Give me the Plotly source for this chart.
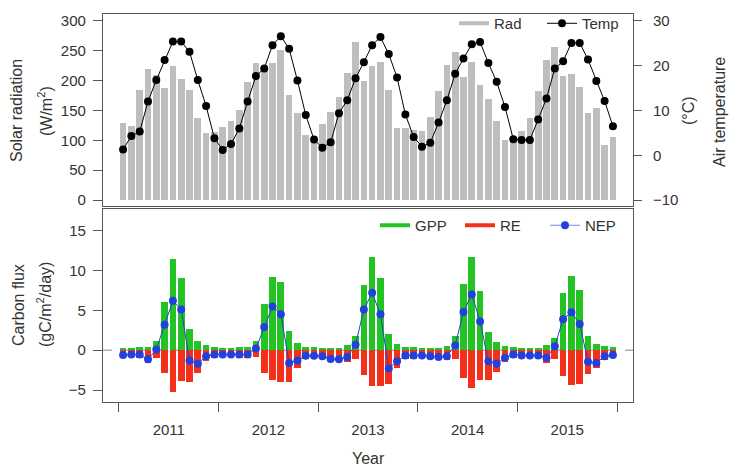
import plotly.graph_objects as go

# ---------------- data ----------------
years = ["2011", "2012", "2013", "2014", "2015"]
first_year = 2011

rad = [129, 124, 185, 219, 210, 188, 225, 202, 185, 138, 112, 114,
       123, 133, 151, 198, 229, 221, 229, 251, 176, 146, 109, 106,
       128, 148, 173, 213, 265, 200, 225, 232, 185, 120, 120, 117,
       115, 139, 182, 226, 248, 206, 232, 193, 170, 132, 101, 104,
       115, 137, 183, 235, 257, 208, 212, 189, 145, 155, 92, 105]

temp = [1.3, 4.3, 5.3, 12.0, 16.8, 21.3, 25.4, 25.4, 23.1, 16.8, 11.0, 3.8,
        1.2, 2.5, 6.0, 12.0, 17.7, 19.4, 24.6, 26.6, 23.8, 16.7, 9.0, 3.5,
        1.7, 2.9, 9.4, 12.3, 17.2, 20.8, 24.6, 26.4, 22.6, 17.4, 9.1, 4.1,
        1.9, 2.8, 7.3, 12.3, 18.2, 21.6, 24.8, 25.3, 20.6, 16.4, 10.8, 3.6,
        3.4, 3.4, 8.0, 12.7, 19.4, 21.0, 25.1, 25.1, 21.4, 16.6, 12.1, 6.5]

gpp = [0.3, 0.3, 0.4, 0.4, 1.1, 6.0, 11.5, 9.0, 2.7, 1.1, 0.6, 0.4,
       0.3, 0.3, 0.4, 0.4, 1.1, 5.8, 9.2, 8.5, 2.4, 0.9, 0.4, 0.4,
       0.3, 0.3, 0.3, 0.6, 1.75, 8.2, 11.7, 9.0, 2.0, 0.8, 0.4, 0.4,
       0.3, 0.3, 0.3, 0.5, 1.75, 8.3, 11.75, 7.4, 2.3, 1.0, 0.5, 0.4,
       0.3, 0.3, 0.3, 0.6, 1.55, 7.2, 9.25, 7.6, 1.75, 0.8, 0.5, 0.4]

re = [-0.9, -0.85, -0.95, -1.55, -1.0, -2.8, -5.3, -3.9, -4.0, -2.8, -1.35, -0.95,
      -0.85, -0.85, -0.95, -0.95, -0.9, -2.9, -3.7, -4.0, -4.0, -2.2, -1.1, -1.1,
      -1.05, -1.4, -1.45, -1.45, -1.05, -3.1, -4.5, -4.5, -4.3, -2.2, -1.05, -1.05,
      -0.95, -1.05, -1.15, -1.25, -1.15, -3.5, -4.75, -3.8, -3.7, -2.7, -1.45, -0.95,
      -0.95, -0.95, -0.95, -1.55, -1.1, -3.25, -4.4, -4.3, -3.0, -2.2, -1.25, -1.0]

nep = [-0.6, -0.55, -0.55, -1.15, 0.1, 3.2, 6.2, 5.1, -1.3, -1.7, -0.75, -0.55,
       -0.55, -0.55, -0.55, -0.55, 0.2, 2.9, 5.5, 4.5, -1.6, -1.3, -0.7, -0.7,
       -0.75, -1.1, -1.15, -0.85, 0.7, 5.1, 7.2, 4.5, -2.3, -1.4, -0.65, -0.65,
       -0.65, -0.75, -0.85, -0.75, 0.6, 4.8, 7.0, 3.6, -1.4, -1.7, -0.95, -0.55,
       -0.65, -0.65, -0.65, -0.95, 0.5, 3.9, 4.75, 3.3, -1.45, -1.6, -0.75, -0.6]

rad_ticks = [0, 50, 100, 150, 200, 250, 300]
temp_ticks = [-10, 0, 10, 20, 30]
flux_ticks = [-5, 0, 5, 10, 15]

# month centres on a decimal-year axis
x = [first_year + (i + 0.5) / 12 for i in range(len(rad))]
year_mid = [first_year + k + 0.5 for k in range(len(years))]
year_edges = [first_year + k for k in range(len(years) + 1)]

# ---------------- style ----------------
FONT = "Liberation Sans, Arial, sans-serif"
TXT = "#333333"
LINE = "#555555"
GRAY = "#BEBEBE"
GREEN = "#22C322"
RED = "#F5301A"
BLUE = "#2340DD"
BW = 0.067

fig = go.Figure()

# top panel
fig.add_trace(go.Bar(x=x, y=rad, width=BW, marker=dict(color=GRAY, line=dict(width=0)),
                     xaxis="x", yaxis="y", showlegend=False))
fig.add_trace(go.Scatter(x=x, y=temp, mode="lines+markers", xaxis="x", yaxis="y3",
                         line=dict(color="black", width=1),
                         marker=dict(color="black", size=8), showlegend=False))
fig.add_trace(go.Scatter(x=[None], y=[None], mode="lines", name="Rad", legend="legend",
                         line=dict(color=GRAY, width=4), xaxis="x", yaxis="y"))
fig.add_trace(go.Scatter(x=[None], y=[None], mode="lines+markers", name="Temp", legend="legend",
                         line=dict(color="black", width=1), marker=dict(color="black", size=8),
                         xaxis="x", yaxis="y"))

# bottom panel
fig.add_trace(go.Bar(x=x, y=gpp, width=BW, marker=dict(color=GREEN, line=dict(width=0)),
                     xaxis="x2", yaxis="y2", showlegend=False))
fig.add_trace(go.Bar(x=x, y=re, width=BW, marker=dict(color=RED, line=dict(width=0)),
                     xaxis="x2", yaxis="y2", showlegend=False))
fig.add_trace(go.Scatter(x=x, y=nep, mode="lines+markers", xaxis="x2", yaxis="y2",
                         line=dict(color=BLUE, width=1),
                         marker=dict(color=BLUE, size=8), showlegend=False))
fig.add_trace(go.Scatter(x=[None], y=[None], mode="lines", name="GPP", legend="legend2",
                         line=dict(color=GREEN, width=4), xaxis="x2", yaxis="y2"))
fig.add_trace(go.Scatter(x=[None], y=[None], mode="lines", name="RE", legend="legend2",
                         line=dict(color=RED, width=4), xaxis="x2", yaxis="y2"))
fig.add_trace(go.Scatter(x=[None], y=[None], mode="lines+markers", name="NEP", legend="legend2",
                         line=dict(color="#6E8BEE", width=1), marker=dict(color=BLUE, size=8),
                         xaxis="x2", yaxis="y2"))

XR = [2010.84, 2016.16]
top_dom = [(402 - 206) / 388, 1]
bot_dom = [0, (402 - 209) / 388]

def px2x(px):
    return (px - 103) / 530

def py2y(py):
    return (402 - py) / 388

common_axis = dict(showgrid=False, zeroline=False, showline=True, linecolor=LINE, linewidth=1.2,
                   tickcolor=LINE, tickwidth=1, tickfont=dict(size=15, color=TXT, family=FONT))

fig.update_layout(
    width=729, height=468,
    margin=dict(l=103, r=96, t=14, b=66, autoexpand=False),
    paper_bgcolor="white", plot_bgcolor="white",
    font=dict(family=FONT, size=15, color=TXT),
    barmode="overlay", bargap=0,
    xaxis=dict(domain=[0, 1], anchor="y", range=XR, showticklabels=False, ticks="",
               mirror=True, **{k: v for k, v in common_axis.items() if k not in ("tickfont",)}),
    yaxis=dict(domain=top_dom, anchor="x", range=[-10, 311.7], tickmode="array",
               tickvals=rad_ticks, ticks="outside", ticklen=9, mirror=True,
               ticklabelstandoff=4, **common_axis),
    yaxis3=dict(overlaying="y", side="right", anchor="x", range=[-11.33, 31.56],
                tickmode="array", tickvals=temp_ticks, ticks="outside", ticklen=8,
                ticklabelstandoff=8,
                showgrid=False, zeroline=False, showline=False, tickcolor=LINE, tickwidth=1,
                tickfont=dict(size=15, color=TXT, family=FONT)),
    xaxis2=dict(domain=[0, 1], anchor="y2", range=XR, tickmode="array",
                tickvals=year_mid, ticktext=years, ticks="outside", ticklen=14,
                mirror=True,
                minor=dict(tickmode="array", tickvals=year_edges, ticks="outside",
                           ticklen=9, tickcolor=LINE, tickwidth=1),
                **{**common_axis, "tickcolor": "rgba(0,0,0,0)"}),
    yaxis2=dict(domain=bot_dom, anchor="x2", range=[-6.5, 17.72], tickmode="array",
                tickvals=flux_ticks, ticks="outside", ticklen=9, mirror=True,
                ticklabelstandoff=4, **common_axis),
    legend=dict(orientation="h", xanchor="right", x=px2x(630), yanchor="top", y=1.018,
                bgcolor="rgba(0,0,0,0)", font=dict(size=15, color=TXT, family=FONT),
                itemwidth=30, tracegroupgap=0, entrywidthmode="pixels", entrywidth=43),
    legend2=dict(orientation="h", xanchor="right", x=px2x(630), yanchor="top", y=py2y(209),
                 bgcolor="rgba(0,0,0,0)", font=dict(size=15, color=TXT, family=FONT),
                 itemwidth=30, tracegroupgap=0, entrywidthmode="pixels", entrywidth=40),
    shapes=[dict(type="line", xref="x2 domain", x0=0, x1=1, yref="y2", y0=0, y1=0,
                 line=dict(color="#888888", width=1, dash="dash"), layer="below")],
)

ann = [
    ("Solar radiation", 16, 111),
    ("(W/m<sup>2</sup>)", 45, 111),
    ("Carbon flux", 18, 305),
    ("(gC/m<sup>2</sup>/day)", 44, 305),
    ("(°C)", 688, 111),
    ("Air temperature", 719, 112),
]
for txt, ax_, ay_ in ann:
    fig.add_annotation(text=txt, xref="paper", yref="paper", x=px2x(ax_), y=py2y(ay_),
                       xanchor="center", yanchor="middle", textangle=-90, showarrow=False,
                       font=dict(size=16, color=TXT, family=FONT))
fig.add_annotation(text="Year", xref="paper", yref="paper", x=px2x(368), y=py2y(459),
                   xanchor="center", yanchor="middle", showarrow=False,
                   font=dict(size=16, color=TXT, family=FONT))

fig.write_html("out.html")
